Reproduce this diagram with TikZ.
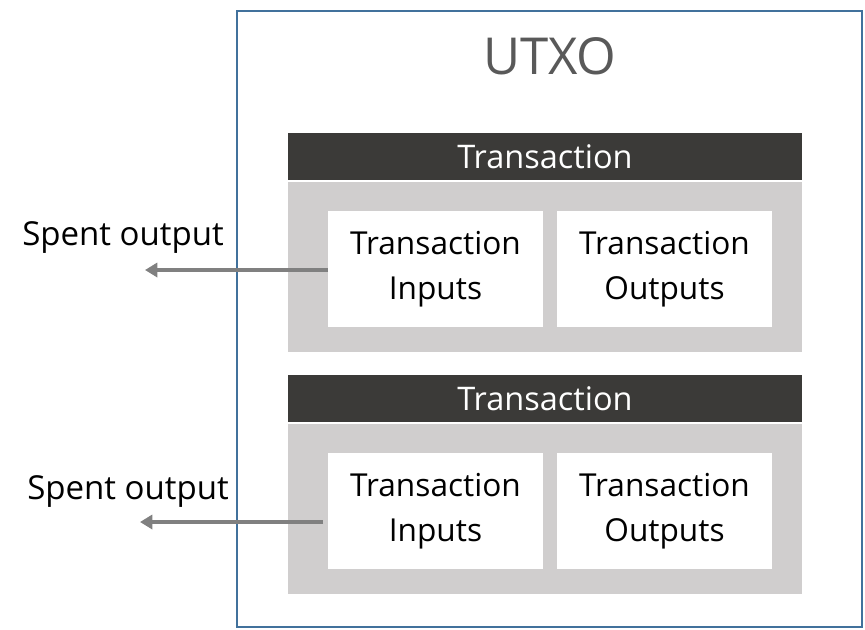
\documentclass[tikz,border=0pt]{standalone}
\usepackage{fontspec}
\setmainfont{Open Sans}
\usetikzlibrary{positioning,arrows.meta}
\definecolor{utxoblue}{HTML}{41719C}
\definecolor{headgray}{HTML}{3B3A38}
\definecolor{bodygray}{HTML}{D0CECE}
\definecolor{arrowgray}{HTML}{808080}
\definecolor{titlegray}{HTML}{595959}
\tikzset{
  txhead/.style={fill=headgray, text=white, inner sep=0pt,
    minimum width=10.28cm, minimum height=0.95cm,
    font=\fontsize{18.5}{22}\selectfont},
  txbody/.style={fill=bodygray, inner sep=0pt,
    minimum width=10.28cm, minimum height=3.4cm},
  txpart/.style={fill=white, inner sep=0pt, align=center,
    minimum width=4.3cm, minimum height=2.32cm,
    font=\fontsize{18}{25.5}\selectfont},
  spent/.style={-{Triangle[length=7pt,width=8pt]}, line width=2.3pt, arrowgray},
  spentlabel/.style={font=\fontsize{18.8}{22}\selectfont}
}
\begin{document}
\begin{tikzpicture}[x=0.02cm,y=-0.02cm]
  \useasboundingbox (0,0) rectangle (865,629);

  % Outer UTXO box
  \draw[utxoblue, line width=1.3pt] (237,11) rectangle (862,627);
  \node[text=titlegray, font=\fontsize{29}{33}\selectfont] (utxo) at (550,56) {UTXO};

  % Two transactions, each with inputs and outputs
  \foreach \i/\dy/\ax/\ay/\lx/\ly in {1/0/328/270/123/238, 2/242/323/522/128/491} {
    \node[txhead] (head\i) at (545,156.5+\dy) {Transaction};
    \node[txbody] (body\i) at (545,267+\dy) {};
    \node[txpart] (in\i) at (435.5,269+\dy) {Transaction\\Inputs};
    \node[txpart] (out\i) at (664.5,269+\dy) {Transaction\\Outputs};
    \coordinate (from\i) at (\ax,\ay);
    \coordinate (to\i) at (\ax-183,\ay);
    \node[spentlabel] (lbl\i) at (\lx,\ly) {Spent output};
    \draw[spent] (from\i) -- (to\i);
  }
\end{tikzpicture}
\end{document}
